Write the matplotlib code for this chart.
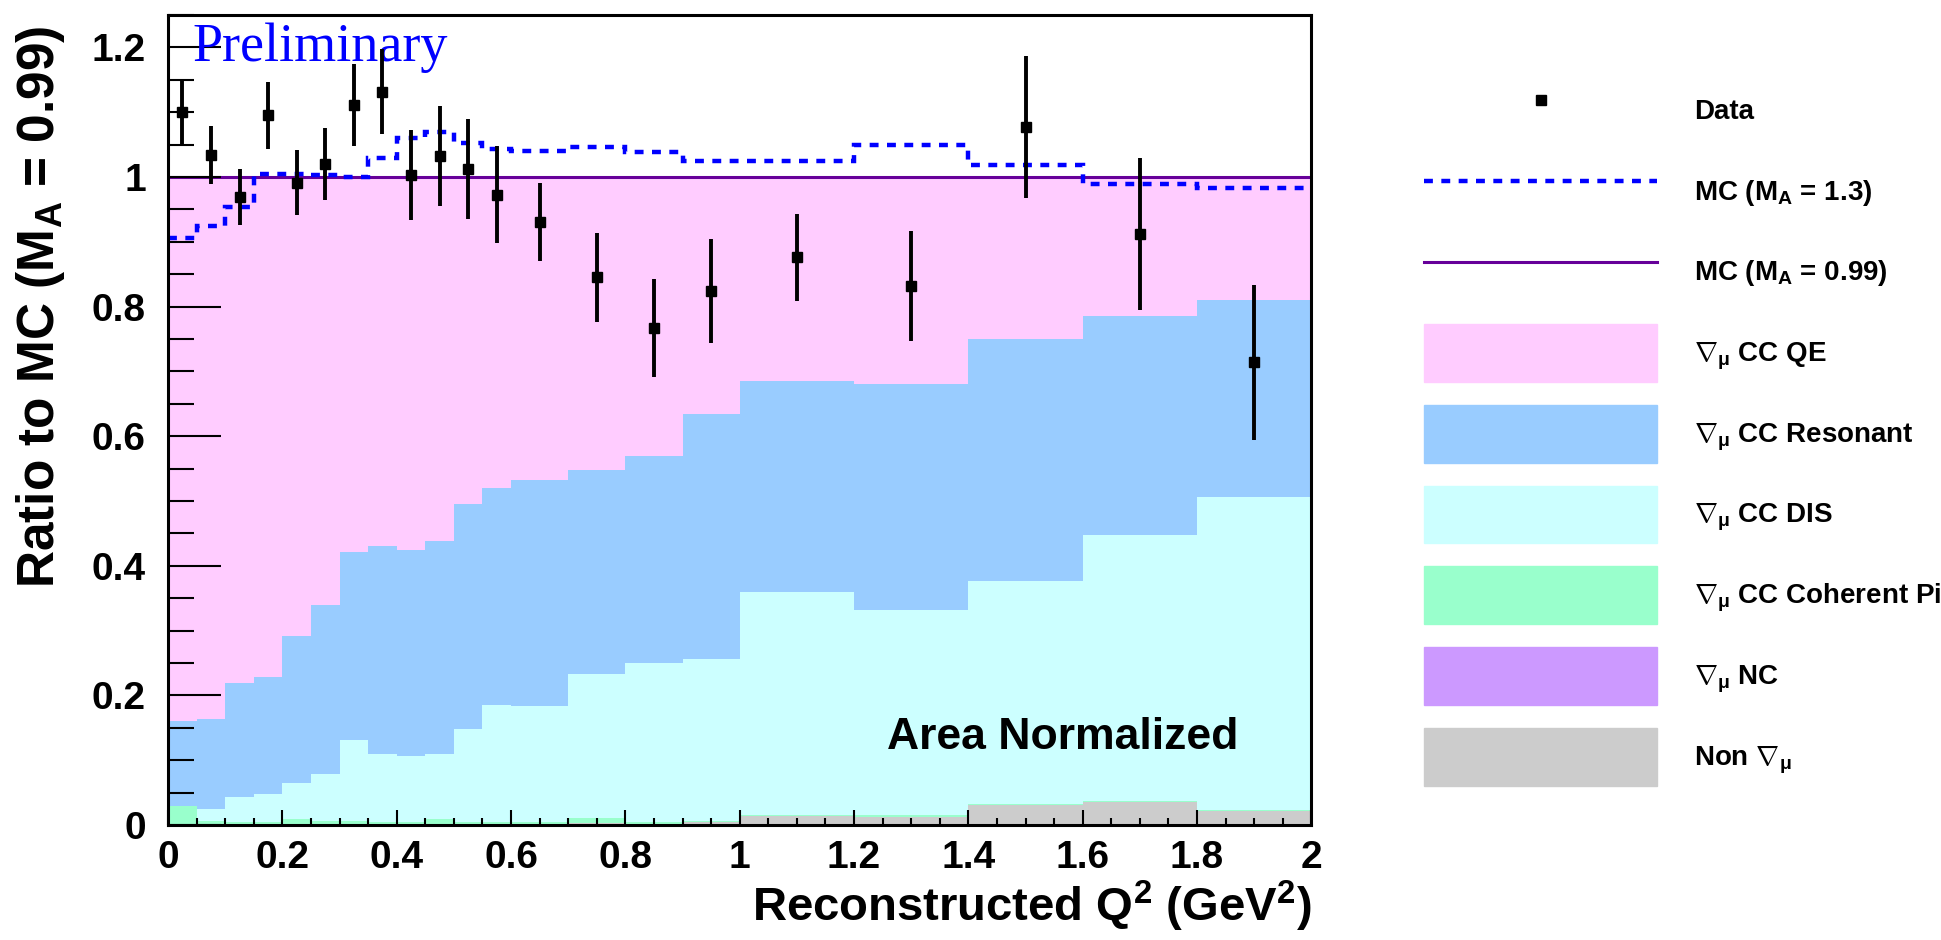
import matplotlib
matplotlib.use('Agg')
import matplotlib.pyplot as plt
from matplotlib.lines import Line2D
from matplotlib.patches import Patch
from matplotlib.ticker import MultipleLocator, FuncFormatter
import numpy as np

plt.rcParams['font.family'] = ['Liberation Sans', 'DejaVu Sans']
plt.rcParams['font.weight'] = 'bold'
plt.rcParams['mathtext.fontset'] = 'custom'
plt.rcParams['mathtext.rm'] = 'Liberation Sans:bold'
plt.rcParams['mathtext.bf'] = 'Liberation Sans:bold'
plt.rcParams['mathtext.it'] = 'Liberation Sans:bold'

# Q2 binning (GeV^2)
edges = [0.0, 0.05, 0.1, 0.15, 0.2, 0.25, 0.3, 0.35, 0.4, 0.45, 0.5, 0.55, 0.6,
         0.7, 0.8, 0.9, 1.0, 1.2, 1.4, 1.6, 1.8, 2.0]
centers = [0.025, 0.075, 0.125, 0.175, 0.225, 0.275, 0.325, 0.375, 0.425, 0.475,
           0.525, 0.575, 0.65, 0.75, 0.85, 0.95, 1.1, 1.3, 1.5, 1.7, 1.9]

# data / MC(MA=0.99)
data_ratio = [1.100, 1.034, 0.969, 1.095, 0.991, 1.020, 1.111, 1.132, 1.003, 1.032, 1.012,
              0.973, 0.931, 0.845, 0.767, 0.824, 0.876, 0.832, 1.077, 0.912, 0.714]
data_err = [0.050, 0.045, 0.043, 0.052, 0.050, 0.055, 0.063, 0.065, 0.070, 0.077, 0.077,
            0.075, 0.060, 0.068, 0.076, 0.080, 0.067, 0.085, 0.110, 0.117, 0.120]

# MC(MA=1.3) / MC(MA=0.99)
mc13_ratio = [0.906, 0.924, 0.954, 1.005, 1.005, 1.003, 1.000, 1.030, 1.060, 1.070, 1.052,
              1.044, 1.040, 1.047, 1.038, 1.024, 1.024, 1.049, 1.019, 0.990, 0.983]
mc099_ratio = [1.0] * 21

# MC components (fraction of MC MA=0.99), bottom -> top
nonnu = [0.0, 0.0, 0.0, 0.0, 0.0, 0.0, 0.0, 0.0, 0.0, 0.0, 0.0,
         0.0, 0.001, 0.003, 0.001, 0.005, 0.014, 0.012, 0.031, 0.036, 0.022]
nc = [0.0, 0.0, 0.0, 0.0, 0.0, 0.0, 0.0, 0.0, 0.0, 0.0, 0.0,
      0.0, 0.0, 0.0, 0.0, 0.0, 0.0, 0.0, 0.0, 0.0, 0.0]
coh = [0.029, 0.006, 0.005, 0.005, 0.010, 0.006, 0.006, 0.005, 0.004, 0.009, 0.005,
       0.004, 0.003, 0.008, 0.004, 0.002, 0.001, 0.004, 0.001, 0.001, 0.001]
dis = [0.001, 0.019, 0.038, 0.043, 0.055, 0.073, 0.125, 0.105, 0.103, 0.101, 0.143,
       0.182, 0.180, 0.222, 0.245, 0.249, 0.344, 0.316, 0.344, 0.410, 0.483]
res = [0.130, 0.139, 0.176, 0.181, 0.227, 0.261, 0.291, 0.320, 0.318, 0.329, 0.348,
       0.334, 0.348, 0.315, 0.320, 0.379, 0.326, 0.349, 0.374, 0.339, 0.305]
qe = [0.840, 0.836, 0.781, 0.771, 0.708, 0.660, 0.578, 0.570, 0.575, 0.561, 0.504,
      0.480, 0.468, 0.452, 0.430, 0.365, 0.315, 0.319, 0.250, 0.214, 0.189]

comps = [nonnu, nc, coh, dis, res, qe]
comp_colors = ['#cccccc', '#cc99ff', '#99ffcc', '#ccffff', '#99ccff', '#ffccff']

fig = plt.figure(figsize=(19.41, 9.40), dpi=100)
ax = fig.add_axes([0.0866, 0.1223, 0.5890, 0.8617])

base = np.zeros(len(centers))
for c, col in zip(comps, comp_colors):
    top = base + np.array(c)
    ax.stairs(top, edges, baseline=base, fill=True, color=col, lw=0)
    base = top

ax.stairs(mc099_ratio, edges, color='#660099', lw=2.2, baseline=None)
ax.stairs(mc13_ratio, edges, color='#0000ff', lw=3.2, baseline=None,
          linestyle=(0, (2.0, 1.9)))

ax.errorbar(centers, data_ratio, yerr=data_err, fmt='s', color='black', ms=7,
            elinewidth=2.8, capsize=0, zorder=5)

ax.set_xlim(0, 2)
ax.set_ylim(0, 1.25)
ax.xaxis.set_major_locator(MultipleLocator(0.2))
ax.xaxis.set_minor_locator(MultipleLocator(0.05))
ax.yaxis.set_major_locator(MultipleLocator(0.2))
ax.yaxis.set_minor_locator(MultipleLocator(0.05))
fmt = FuncFormatter(lambda v, p: '%g' % round(v, 3))
ax.xaxis.set_major_formatter(fmt)
ax.yaxis.set_major_formatter(fmt)

ax.tick_params(axis='y', which='major', direction='in', length=38, width=1.5,
               labelsize=28, pad=16)
ax.tick_params(axis='y', which='minor', direction='in', length=19, width=1.5)
ax.tick_params(axis='x', which='major', direction='in', length=11, width=1.5,
               labelsize=28, pad=11)
ax.tick_params(axis='x', which='minor', direction='in', length=5, width=1.5)
for s in ax.spines.values():
    s.set_linewidth(2.2)
for lab in ax.get_xticklabels() + ax.get_yticklabels():
    lab.set_fontweight('bold')

ax.set_ylabel(r'Ratio to MC (M$_\mathbf{A}$ = 0.99)', fontsize=37, fontweight='bold',
              va='center')
ax.yaxis.set_label_coords(-0.112, 0.64)
ax.set_xlabel(r'Reconstructed Q$^\mathbf{2}$ (GeV$^\mathbf{2}$)', fontsize=34,
              fontweight='bold', ha='right', va='center')
ax.xaxis.set_label_coords(1.0, -0.1)

ax.text(0.021, 0.943, 'Preliminary', transform=ax.transAxes, color='#0000ff',
        fontsize=39, fontweight='normal', family=['Liberation Serif', 'DejaVu Serif'],
        va='baseline', ha='left')
ax.text(0.629, 0.094, 'Area Normalized', transform=ax.transAxes, color='black',
        fontsize=32, fontweight='bold', va='baseline', ha='left')

nub = r'$\nabla_{\mu}$'
handles = [
    Line2D([], [], marker='s', color='black', ms=7, linestyle='none'),
    Line2D([], [], color='#0000ff', lw=3.2, linestyle=(0, (2.0, 1.9))),
    Line2D([], [], color='#660099', lw=2.2),
    Patch(color='#ffccff'), Patch(color='#99ccff'), Patch(color='#ccffff'),
    Patch(color='#99ffcc'), Patch(color='#cc99ff'), Patch(color='#cccccc'),
]
labels = ['Data', r'MC (M$_\mathbf{A}$ = 1.3)', r'MC (M$_\mathbf{A}$ = 0.99)',
          nub + ' CC QE', nub + ' CC Resonant', nub + ' CC DIS',
          nub + ' CC Coherent Pi', nub + ' NC', 'Non ' + nub]
fig.legend(handles, labels, loc='upper left', bbox_to_anchor=(0.7337, 0.913),
           frameon=False, borderpad=0, borderaxespad=0, handlelength=8.4,
           handleheight=2.82, labelspacing=0.83, handletextpad=1.33,
           prop={'weight': 'bold', 'size': 20})

fig.savefig('out.png', dpi=100)
